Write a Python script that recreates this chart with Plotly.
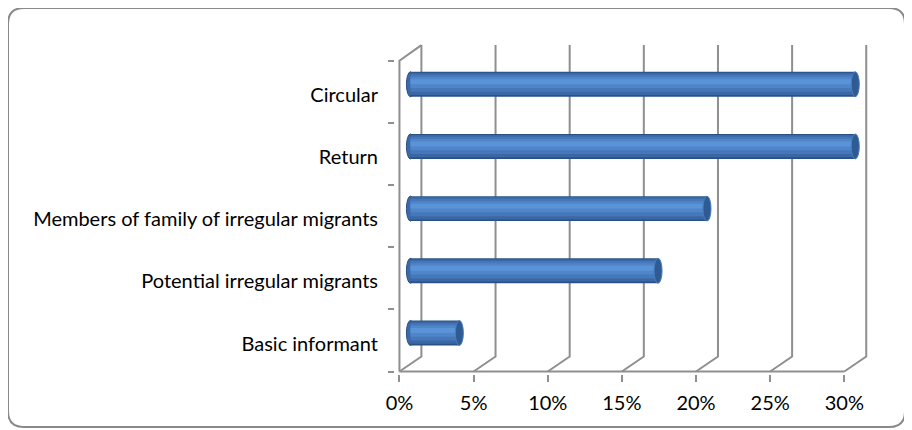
import plotly.graph_objects as go

# data, bottom to top as plotted
categories = ['Basic informant', 'Potential irregular migrants',
              'Members of family of irregular migrants', 'Return', 'Circular']
values = [3.3, 16.7, 20, 30, 30]
x_ticks = [0, 5, 10, 15, 20, 25, 30]
x_tick_labels = ['0%', '5%', '10%', '15%', '20%', '25%', '30%']

# fake 3d depth (in axis units)
DX = 1.48
DY = 0.24
TOP = 5.25
GRID = '#8f8f8f'
FONT = 'Lato, sans-serif'

pos = list(range(len(categories)))
bar_y = [p + 0.5 + DY / 2 for p in pos]
base = [DX / 2] * len(values)

# cylinder look: stacked bands, dark outside -> light centre
bands = [
    (0.40, 0.000, '#2a5186'),
    (0.36, 0.006, '#3a68a7'),
    (0.28, 0.018, '#4577b9'),
    (0.18, 0.030, '#4f86ca'),
    (0.08, 0.040, '#5a93d7'),
]

fig = go.Figure()
for w, shift, col in bands:
    fig.add_trace(go.Bar(
        x=values, y=[b + shift for b in bar_y], base=base, orientation='h',
        width=w, marker=dict(color=col, line=dict(width=0)),
        hoverinfo='skip', showlegend=False,
    ))

shapes = []
# floor + back wall grid lines
for t in x_ticks:
    shapes.append(dict(type='path', layer='below',
                       path=f'M {t},0 L {t + DX},{DY} L {t + DX},{TOP}',
                       line=dict(color=GRID, width=2)))
# left wall
shapes.append(dict(type='path', layer='below',
                   path=f'M 0,0 L 0,{len(categories)} L {DX},{TOP}',
                   line=dict(color=GRID, width=2)))
# front floor edge
shapes.append(dict(type='line', layer='below', x0=0, x1=x_ticks[-1], y0=0, y1=0,
                   line=dict(color=GRID, width=2)))

# cylinder caps
for v, y, b in zip(values, bar_y, base):
    shapes.append(dict(type='circle', layer='below', x0=b - 0.27, x1=b + 0.27,
                       y0=y - 0.2, y1=y + 0.2, fillcolor='#3c6aa8',
                       line=dict(color='#2a5186', width=1)))
    shapes.append(dict(type='circle', layer='above', x0=b + v - 0.27, x1=b + v + 0.27,
                       y0=y - 0.2, y1=y + 0.2, fillcolor='#2f5a92',
                       line=dict(color='#4a7dbd', width=1)))

# page body has an 8px margin, so the figure is laid out 8px smaller
FW, FH = 904, 422
L, W, T, H = 387, 476, 34, 332


def px(x):
    return (x - L) / W


def py(y):
    return (T + H - y) / H


# rounded outer frame (pixel -> paper)
x0, x1, y0, y1, r = 0, 897, 0, 419, 16
frame = (f'M {px(x0 + r)},{py(y0)} L {px(x1 - r)},{py(y0)} '
         f'Q {px(x1)},{py(y0)} {px(x1)},{py(y0 + r)} L {px(x1)},{py(y1 - r)} '
         f'Q {px(x1)},{py(y1)} {px(x1 - r)},{py(y1)} L {px(x0 + r)},{py(y1)} '
         f'Q {px(x0)},{py(y1)} {px(x0)},{py(y1 - r)} L {px(x0)},{py(y0 + r)} '
         f'Q {px(x0)},{py(y0)} {px(x0 + r)},{py(y0)} Z')
shapes.append(dict(type='path', xref='paper', yref='paper', path=frame,
                   line=dict(color='#8a8a8a', width=2)))

fig.update_layout(
    width=FW, height=FH, autosize=False,
    margin=dict(l=L, r=FW - L - W, t=T, b=FH - T - H),
    paper_bgcolor='white', plot_bgcolor='white',
    barmode='overlay', shapes=shapes,
    font=dict(family=FONT, size=20, color='black'),
    xaxis=dict(range=[-0.3, 31.8], tickvals=x_ticks, ticktext=x_tick_labels,
               ticks='outside', ticklen=7, tickwidth=2, tickcolor=GRID,
               ticklabelstandoff=4, showgrid=False, zeroline=False,
               showline=False, fixedrange=True),
    yaxis=dict(range=[-0.04, 5.3], tickvals=[p + 0.45 for p in pos],
               ticktext=categories, ticks='', ticklabelstandoff=16,
               showgrid=False, zeroline=False, showline=False,
               minor=dict(tickvals=list(range(len(categories) + 1)),
                          ticks='outside', ticklen=6, tickwidth=2,
                          tickcolor=GRID, showgrid=False),
               fixedrange=True),
)

fig.write_html("out.html")
